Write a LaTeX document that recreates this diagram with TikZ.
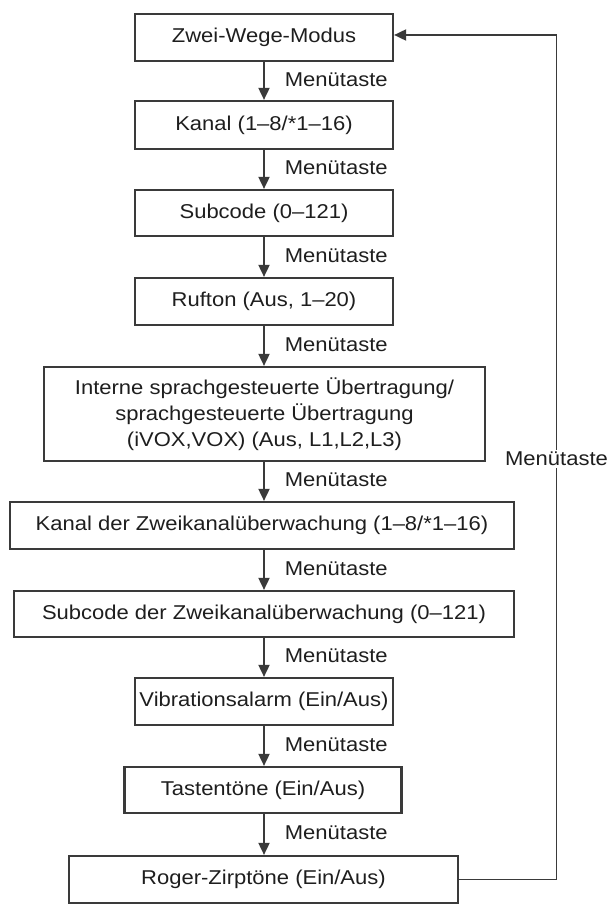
\documentclass[tikz,border=0pt]{standalone}
\usepackage{fontspec}
\setmainfont{Liberation Sans}[FakeStretch=1.1]
\usetikzlibrary{arrows.meta,calc}
\definecolor{ln}{HTML}{3A3A3A}
\definecolor{tx}{HTML}{1E1E1E}
\begin{document}
\begin{tikzpicture}[x=1pt,y=1pt,
  box/.style={draw=ln, line width=2.2pt, fill=white, inner sep=0pt, text=tx,
    font=\fontsize{20}{26}\selectfont, align=center},
  arr/.style={draw=ln, line width=1.8pt, -{Triangle[length=12pt,width=11pt]}},
  lbl/.style={anchor=west, inner sep=0pt, xshift=20pt, yshift=1.5pt, text=tx,
    font=\fontsize{20}{26}\selectfont}]
\useasboundingbox (0,0) rectangle (610,-907);
\node[box, minimum width=258pt, minimum height=47pt] (b1) at (264,-37.5) {Zwei-Wege-Modus};
\node[box, minimum width=258pt, minimum height=48pt] (b2) at (264,-125) {Kanal (1–8/*1–16)};
\node[box, minimum width=258pt, minimum height=46pt] (b3) at (264,-213) {Subcode (0–121)};
\node[box, minimum width=258pt, minimum height=47pt] (b4) at (264,-301.5) {Rufton (Aus, 1–20)};
\node[box, minimum width=441pt, minimum height=94pt] (b5) at (264.5,-414) {Interne sprachgesteuerte Übertragung/\\sprachgesteuerte Übertragung\\(iVOX,VOX) (Aus, L1,L2,L3)};
\node[box, minimum width=504pt, minimum height=47pt] (b6) at (262,-525.5) {Kanal der Zweikanalüberwachung (1–8/*1–16)};
\node[box, minimum width=500pt, minimum height=46pt] (b7) at (264,-614) {Subcode der Zweikanalüberwachung (0–121)};
\node[box, minimum width=258pt, minimum height=47pt] (b8) at (264,-701.5) {Vibrationsalarm (Ein/Aus)};
\node[box, minimum width=277pt, minimum height=46pt] (b9) at (263,-790) {Tastentöne (Ein/Aus)};
\node[box, minimum width=389pt, minimum height=47pt] (b10) at (263.5,-879.5) {Roger-Zirptöne (Ein/Aus)};
\foreach \a/\b in {b1/b2,b2/b3,b3/b4,b4/b5,b5/b6,b6/b7,b7/b8,b8/b9,b9/b10}{
  \draw[arr] (b1.south |- \a.south) -- node[lbl]{Menütaste} (b1.south |- \b.north);
}
\coordinate (c1) at (556.5,-35);
\draw[arr] (b10.east) -| (c1) -- (c1 -| b1.east);
\node[fill=white, inner sep=2pt, text=tx, font=\fontsize{20}{26}\selectfont] (lr) at (556.5,-459) {Menütaste};
\end{tikzpicture}
\end{document}
